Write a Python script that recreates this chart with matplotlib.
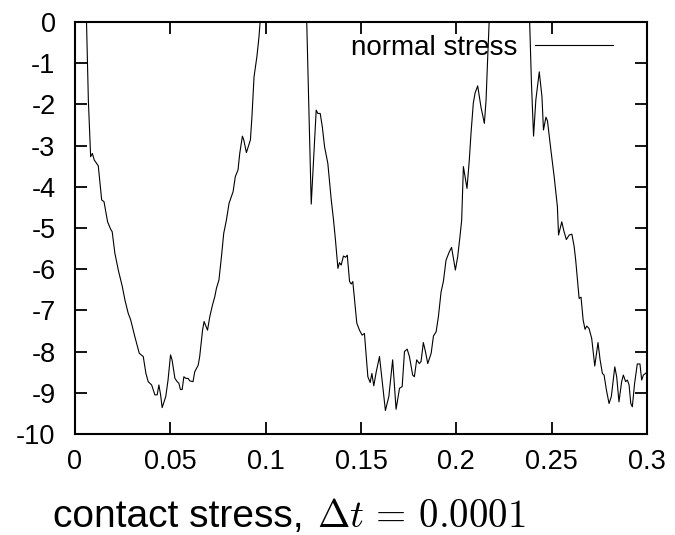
"""Contact (normal) stress history for a time step of 1e-4."""

import matplotlib
matplotlib.use("Agg")
import matplotlib.pyplot as plt

# sampled normal stress; values above 0 leave the plotted range
time = [
    0.0040, 0.0070, 0.0082, 0.0091, 0.0101, 0.0122, 0.0140, 0.0152, 0.0171,
    0.0187, 0.0195, 0.0209, 0.0227, 0.0248, 0.0262, 0.0279, 0.0292, 0.0314,
    0.0337, 0.0358, 0.0372, 0.0384, 0.0402, 0.0419, 0.0431, 0.0440, 0.0449,
    0.0457, 0.0476, 0.0488, 0.0501, 0.0509, 0.0524, 0.0536, 0.0545, 0.0553,
    0.0562, 0.0571, 0.0581, 0.0593, 0.0602, 0.0619, 0.0628, 0.0646, 0.0654,
    0.0669, 0.0677, 0.0695, 0.0707, 0.0721, 0.0733, 0.0742, 0.0755, 0.0768,
    0.0780, 0.0794, 0.0808, 0.0829, 0.0841, 0.0855, 0.0864, 0.0878, 0.0885,
    0.0899, 0.0920, 0.0928, 0.0939, 0.0954, 0.0965, 0.0990, 0.1100, 0.1210,
    0.1239, 0.1265, 0.1274, 0.1286, 0.1297, 0.1309, 0.1326, 0.1344, 0.1356,
    0.1366, 0.1379, 0.1387, 0.1396, 0.1408, 0.1419, 0.1428, 0.1440, 0.1449,
    0.1457, 0.1478, 0.1492, 0.1506, 0.1518, 0.1536, 0.1548, 0.1557, 0.1567,
    0.1580, 0.1597, 0.1614, 0.1628, 0.1646, 0.1666, 0.1684, 0.1702, 0.1716,
    0.1728, 0.1742, 0.1754, 0.1771, 0.1780, 0.1792, 0.1806, 0.1815, 0.1827,
    0.1838, 0.1850, 0.1868, 0.1880, 0.1894, 0.1906, 0.1920, 0.1932, 0.1946,
    0.1963, 0.1975, 0.1995, 0.2007, 0.2019, 0.2028, 0.2037, 0.2056, 0.2068,
    0.2077, 0.2089, 0.2098, 0.2112, 0.2129, 0.2147, 0.2156, 0.2164, 0.2190,
    0.2280, 0.2375, 0.2394, 0.2405, 0.2417, 0.2435, 0.2449, 0.2457, 0.2470,
    0.2478, 0.2496, 0.2513, 0.2530, 0.2536, 0.2553, 0.2565, 0.2577, 0.2592,
    0.2606, 0.2618, 0.2626, 0.2644, 0.2654, 0.2665, 0.2675, 0.2684, 0.2696,
    0.2710, 0.2726, 0.2743, 0.2754, 0.2766, 0.2775, 0.2787, 0.2801, 0.2813,
    0.2831, 0.2841, 0.2853, 0.2867, 0.2876, 0.2888, 0.2897, 0.2906, 0.2915,
    0.2923, 0.2935, 0.2949, 0.2963, 0.2972, 0.2981, 0.3000,
]
normal_stress = [
    4.00, -1.89, -3.27, -3.19, -3.35, -3.49, -4.32, -4.36, -4.85,
    -5.03, -5.09, -5.61, -6.02, -6.42, -6.75, -7.07, -7.23, -7.64,
    -8.04, -8.12, -8.53, -8.73, -8.81, -9.05, -9.05, -8.81, -9.05,
    -9.36, -9.09, -8.69, -8.08, -8.20, -8.65, -8.73, -8.77, -8.92,
    -8.92, -8.61, -8.65, -8.65, -8.71, -8.73, -8.49, -8.33, -8.12,
    -7.48, -7.27, -7.48, -7.15, -6.87, -6.67, -6.46, -6.26, -5.70,
    -5.13, -4.81, -4.40, -4.12, -3.75, -3.59, -3.19, -2.77, -2.86,
    -3.17, -2.86, -2.30, -1.33, -0.84, -0.36, 1.20, 3.00, 1.00,
    -4.42, -2.14, -2.22, -2.22, -2.54, -3.03, -3.43, -4.32, -4.81,
    -5.29, -5.98, -5.84, -5.90, -5.68, -5.71, -5.66, -6.30, -6.36,
    -6.30, -7.31, -7.48, -7.60, -7.56, -8.61, -8.75, -8.53, -8.83,
    -8.49, -8.12, -8.85, -9.43, -9.09, -8.20, -9.40, -8.89, -8.85,
    -8.00, -7.94, -8.12, -8.57, -8.61, -8.20, -8.29, -8.24, -7.78,
    -8.00, -8.29, -8.04, -7.62, -7.52, -7.15, -6.55, -6.30, -5.78,
    -5.58, -5.47, -6.02, -5.70, -5.21, -4.81, -3.51, -4.04, -3.35,
    -2.70, -1.97, -1.73, -1.55, -2.06, -2.46, -1.89, -0.92, 2.00,
    4.00, 1.50, -1.49, -2.77, -1.89, -1.21, -1.81, -2.62, -2.31,
    -2.40, -3.11, -3.75, -4.48, -5.17, -4.85, -5.09, -5.28, -5.17,
    -5.15, -5.45, -5.78, -6.71, -6.68, -7.23, -7.46, -7.38, -7.44,
    -7.68, -8.35, -7.78, -8.20, -8.53, -8.57, -8.93, -9.26, -9.09,
    -8.37, -8.61, -9.22, -8.73, -8.57, -8.73, -8.69, -8.81, -9.26,
    -9.34, -8.77, -8.30, -8.30, -8.69, -8.57, -8.50,
]

x_ticks = [0, 0.05, 0.1, 0.15, 0.2, 0.25, 0.3]
x_labels = ["0", "0.05", "0.1", "0.15", "0.2", "0.25", "0.3"]
y_ticks = list(range(-10, 1))

plt.rcParams["font.family"] = ["Liberation Sans", "DejaVu Sans"]
plt.rcParams["mathtext.fontset"] = "cm"

fig = plt.figure(figsize=(6.75, 5.35), dpi=100)
ax = fig.add_axes([75 / 675, 1 - 434 / 535, 572 / 675, 412 / 535])

ax.plot(time, normal_stress, color="black", linewidth=0.8, label="normal stress")

ax.set_xlim(0, 0.3)
ax.set_ylim(-10, 0)
ax.set_xticks(x_ticks)
ax.set_xticklabels(x_labels)
ax.set_yticks(y_ticks)
ax.set_yticklabels([str(v) for v in y_ticks])

for side in ax.spines.values():
    side.set_linewidth(1.5)
ax.tick_params(direction="in", top=True, right=True, length=8.5, width=1.3,
               labelsize=19.5)
ax.tick_params(axis="x", pad=11)
ax.tick_params(axis="y", pad=14)

ax.legend(loc="center right", bbox_to_anchor=(0.9406, 0.937), frameon=False,
          markerfirst=False, fontsize=20, handlelength=2.8, handletextpad=0.65,
          borderaxespad=0, borderpad=0)

# caption: sans text followed by the time step in math type
fig.text(53 / 675, 1 - 527 / 535, "contact stress,",
         fontsize=28, ha="left", va="baseline")
fig.text(317 / 675, 1 - 527 / 535, r"$\Delta t \,=\, 0.0001$",
         fontsize=28, ha="left", va="baseline")

fig.savefig("out.png", dpi=100)
